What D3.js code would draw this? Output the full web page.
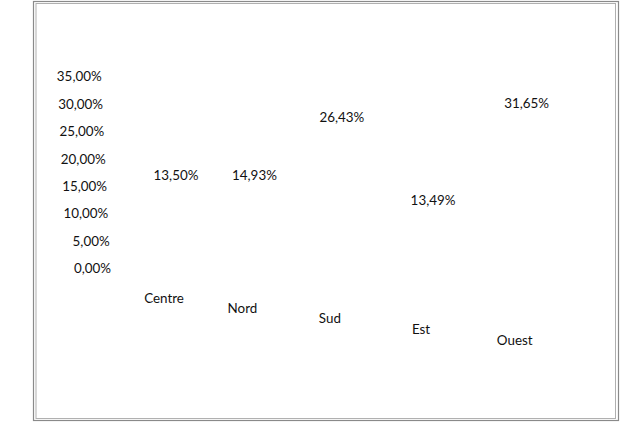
<!DOCTYPE html>
<html>
<head>
<meta charset="utf-8">
<script src="https://cdn.jsdelivr.net/npm/d3@7"></script>
<style>
  html, body { margin: 0; padding: 0; background: #fff; }
  svg { display: block; }
  text { font-family: Lato, "Open Sans", sans-serif; fill: #111; }
</style>
</head>
<body>
<svg id="chart" width="633" height="427"></svg>
<script>
// ---- data ----
const categories = ["Centre", "Nord", "Sud", "Est", "Ouest"];
const values = [13.50, 14.93, 26.43, 13.49, 31.65];
const tickValues = [0, 5, 10, 15, 20, 25, 30, 35];

const fmt = v => d3.format(".2f")(v).replace(".", ",") + "%";

const svg = d3.select("#chart");
const FS = "13.4px";

// frame (double grey line)
svg.append("rect").attr("x", 33.5).attr("y", 1.5).attr("width", 585).attr("height", 419)
  .attr("fill", "none").attr("stroke", "#8a8a8a").attr("stroke-width", 1.2);
svg.append("rect").attr("x", 36).attr("y", 3.5).attr("width", 579.5).attr("height", 415)
  .attr("fill", "none").attr("stroke", "#b0b0b0").attr("stroke-width", 1);

// value axis (skewed, as in a rotated 3-D chart with no visible walls)
const y = d3.scaleLinear().domain([0, 35]).range([268.3, 76.7]);
const axisSkew = d3.scaleLinear().domain([0, 35]).range([111, 101.7]); // right edge of labels

const axisG = svg.append("g").attr("class", "y-axis")
  .call(d3.axisLeft(y).tickValues(tickValues).tickFormat(fmt).tickSize(0).tickPadding(0));
axisG.select(".domain").remove();
axisG.selectAll(".tick")
  .attr("transform", d => `translate(${axisSkew(d)},${y(d)})`);
axisG.selectAll(".tick text")
  .attr("x", 0).attr("dy", "0.35em")
  .style("font-family", "Lato, 'Open Sans', sans-serif")
  .style("font-size", FS).style("fill", "#111");

// category positions (perspective spread)
const xPoint = d3.scalePoint().domain(categories).range([0, 1]);
const xPersp = d3.scalePow().exponent(1.08).domain([0, 1]).range([176, 526.7]);
const labelY = d3.scaleLinear().domain([0, 35]).range([253.3, 253.3 - 35 * 5.75]);
const depthSkew = d3.scaleLinear().domain([0, 1]).range([0, 32.4]);

// data labels
svg.append("g").selectAll("text.val")
  .data(categories)
  .join("text").attr("class", "val")
  .attr("x", d => xPersp(xPoint(d)))
  .attr("y", (d, i) => labelY(values[i]) + depthSkew(xPoint(d)))
  .attr("dy", "0.35em")
  .attr("text-anchor", "middle")
  .style("font-size", FS)
  .text((d, i) => fmt(values[i]));

// category labels along a sloping baseline
const catBase = d3.scaleLinear().domain([163, 516]).range([298.3, 340.7]);
svg.append("g").selectAll("text.cat")
  .data(categories)
  .join("text").attr("class", "cat")
  .attr("x", d => xPersp(xPoint(d)) - 12)
  .attr("y", d => catBase(xPersp(xPoint(d)) - 12))
  .attr("dy", "0.35em")
  .attr("text-anchor", "middle")
  .style("font-size", FS)
  .text(d => d);
</script>
</body>
</html>
